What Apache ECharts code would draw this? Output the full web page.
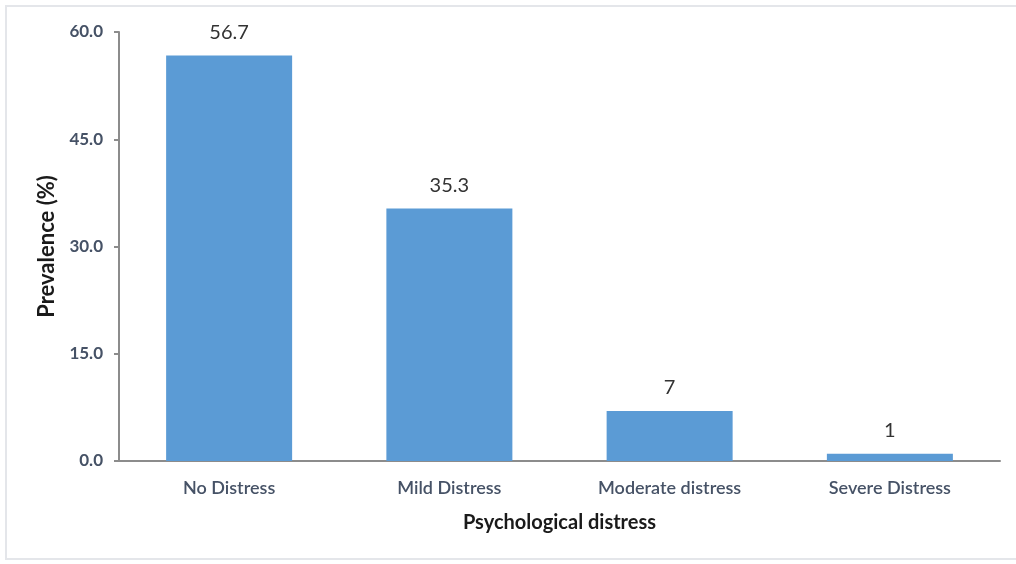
<!DOCTYPE html>
<html>
<head>
<meta charset="utf-8">
<script src="https://cdn.jsdelivr.net/npm/echarts@6/dist/echarts.min.js"></script>
<style>
  html, body { margin: 0; padding: 0; background: #ffffff; }
  #frame {
    position: absolute; left: 5px; top: 5px; width: 1011px; height: 555px;
    border-left: 2px solid #e4e6ea; border-top: 2px solid #e4e6ea; border-bottom: 2px solid #e4e6ea;
    box-sizing: border-box;
  }
  #chart { position: absolute; left: 0; top: 0; width: 1016px; height: 564px; }
</style>
</head>
<body>
<div id="frame"></div>
<div id="chart"></div>
<script>
// Psychological distress categories and prevalence (%)
const categories = ['No Distress', 'Mild Distress', 'Moderate distress', 'Severe Distress'];
const prevalence = [56.7, 35.3, 7, 1];
const yTicks = { min: 0, max: 60, interval: 15 };

const chart = echarts.init(document.getElementById('chart'), null, { renderer: 'canvas' });
const labelColor = '#465266';
const axisColor = '#8c8c8c';
const font = 'Lato, "Open Sans", "Liberation Sans", sans-serif';

chart.setOption({
  animation: false,
  backgroundColor: 'transparent',
  grid: { left: 119, right: 16, top: 32, bottom: 103, containLabel: false },
  xAxis: {
    type: 'category',
    data: categories,
    name: 'Psychological distress',
    nameLocation: 'middle',
    nameGap: 52,
    nameTextStyle: { color: '#1a1a1a', fontSize: 20, fontWeight: 'bold', fontFamily: font },
    axisLine: { show: true, lineStyle: { color: axisColor, width: 2 } },
    axisTick: { show: false },
    axisLabel: { color: labelColor, fontSize: 18, fontWeight: 600, fontFamily: font, margin: 18 },
    splitLine: { show: false }
  },
  yAxis: {
    type: 'value',
    min: yTicks.min,
    max: yTicks.max,
    interval: yTicks.interval,
    name: 'Prevalence (%)',
    nameLocation: 'middle',
    nameGap: 61,
    nameRotate: 90,
    nameTextStyle: { color: '#1a1a1a', fontSize: 22, fontWeight: 'bold', fontFamily: font },
    axisLine: { show: true, lineStyle: { color: axisColor, width: 2 } },
    axisTick: { show: true, length: 5, inside: false, lineStyle: { color: axisColor, width: 2 } },
    axisLabel: {
      color: labelColor, fontSize: 17, fontWeight: 'bold', fontFamily: font, margin: 16,
      formatter: v => v.toFixed(1)
    },
    splitLine: { show: false }
  },
  series: [{
    type: 'bar',
    data: prevalence,
    barWidth: 126,
    itemStyle: { color: '#5b9bd5' },
    label: {
      show: true,
      position: 'top',
      distance: 13,
      color: '#333333',
      fontSize: 20,
      fontFamily: font,
      formatter: p => String(p.value)
    }
  }]
});
</script>
</body>
</html>
